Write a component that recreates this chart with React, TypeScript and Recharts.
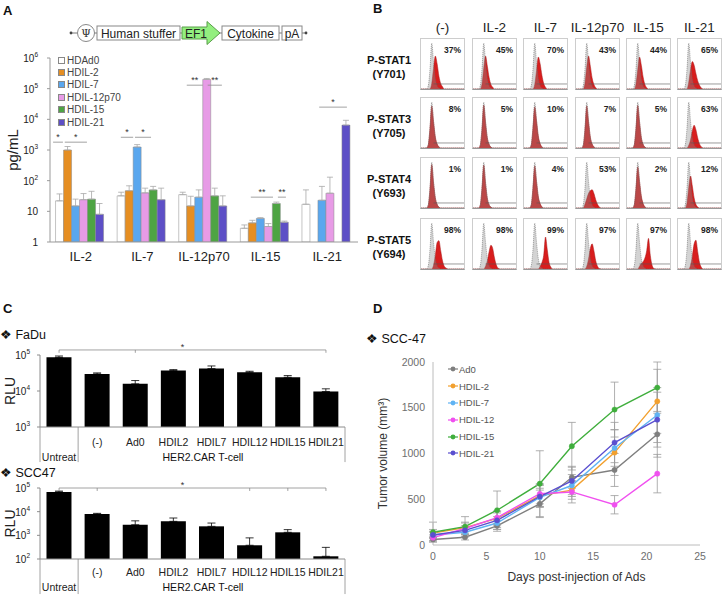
import React from "react";
import {
  BarChart,
  Bar,
  XAxis,
  YAxis,
  ErrorBar,
  ReferenceLine,
  Legend,
  AreaChart,
  Area,
  LineChart,
  Line,
} from "recharts";

const FONT = '"Liberation Sans", Arial, Helvetica, sans-serif';

// ---------- A: cytokine secretion (pg/mL, log scale)
const cytokines = ["IL-2", "IL-7", "IL-12p70", "IL-15", "IL-21"];
const vectors = ["HDAd0", "HDIL-2", "HDIL-7", "HDIL-12p70", "HDIL-15", "HDIL-21"];
const vectorColors = ["#ffffff", "#e58e22", "#5aa7ee", "#e79be6", "#4ea443", "#5d4fc6"];
const hdAd0 = [22, 32, 35, 2.8, 17];
const hdIl2 = [1000, 47, 15, 4.2, 1];
const hdIl7 = [15, 1250, 29, 5.9, 23];
const hdIl12 = [24, 40, 200000, 3.2, 39];
const hdIl15 = [25, 50, 32, 18, 1];
const hdIl21 = [8, 24, 15, 4.4, 6500];
const hdAd0Err = [15, 10, 7, 0.8, 33];
const hdIl2Err = [300, 21, 16, 0.9, 0];
const hdIl7Err = [10, 250, 21, 0.3, 42];
const hdIl12Err = [14, 17, 15000, 0.8, 91];
const hdIl15Err = [20, 15, 25, 2, 0];
const hdIl21Err = [10, 33, 17, 0.4, 2800];
const aTicks = [1, 10, 100, 1000, 10000, 100000, 1000000];
// [category, from, to (fraction of the category band), height in pg/mL, label]
const aBrackets: [string, number, number, number, string][] = [
  ["IL-2", 0.05, 0.21, 1800, "*"],
  ["IL-2", 0.24, 0.6, 1800, "*"],
  ["IL-7", 0.15, 0.35, 2600, "*"],
  ["IL-7", 0.38, 0.64, 2600, "*"],
  ["IL-12p70", 0.22, 0.48, 130000, "**"],
  ["IL-12p70", 0.56, 0.79, 130000, "**"],
  ["IL-15", 0.26, 0.62, 29, "**"],
  ["IL-15", 0.7, 0.83, 29, "**"],
  ["IL-21", 0.37, 0.82, 25000, "*"],
];

const aSeries = [hdAd0, hdIl2, hdIl7, hdIl12, hdIl15, hdIl21];
const aErrs = [hdAd0Err, hdIl2Err, hdIl7Err, hdIl12Err, hdIl15Err, hdIl21Err];
const aData = cytokines.map((name, i) => {
  const row: any = { name };
  vectors.forEach((v, j) => {
    row[v] = aSeries[j][i];
    row[v + "_err"] = [0, aErrs[j][i]];
  });
  return row;
});
const A_W = 362;
const A_BAND = (A_W - 4 - 50) / cytokines.length;

// ---------- B: phospho-STAT flow histograms
const histCols = ["(-)", "IL-2", "IL-7", "IL-12p70", "IL-15", "IL-21"];
const grayCtrl = [0, 0, 0, 0, 6, 42, 100, 58, 22, 7, 2, 0, 0, 0, 0, 0, 0, 0, 0, 0, 0, 0, 0, 0, 0];
// [start bin, counts]
const stat1Red: [number, number[]][] = [
  [5, [0, 12, 45, 72, 55, 28, 12, 5, 0]],
  [4, [0, 10, 45, 72, 50, 25, 10, 4, 0]],
  [5, [0, 10, 40, 70, 55, 30, 12, 4, 0]],
  [4, [0, 12, 48, 72, 50, 24, 10, 3, 0]],
  [4, [0, 10, 42, 70, 52, 26, 10, 3, 0]],
  [5, [0, 15, 42, 60, 52, 34, 18, 8, 2, 0]],
];
const stat3Red: [number, number[]][] = [
  [3, [0, 6, 42, 92, 58, 24, 9, 3, 0]],
  [3, [0, 5, 40, 94, 56, 22, 8, 2, 0]],
  [3, [0, 6, 44, 90, 60, 26, 10, 3, 0]],
  [3, [0, 5, 40, 92, 58, 24, 9, 3, 0]],
  [3, [0, 6, 42, 93, 57, 23, 8, 2, 0]],
  [5, [0, 6, 18, 38, 50, 40, 22, 9, 3, 0]],
];
const stat4Red: [number, number[]][] = [
  [3, [0, 5, 40, 95, 55, 22, 8, 2, 0]],
  [3, [0, 5, 42, 94, 54, 21, 7, 2, 0]],
  [3, [0, 6, 44, 92, 58, 25, 10, 3, 0]],
  [4, [0, 8, 20, 32, 38, 40, 32, 18, 8, 2, 0]],
  [3, [0, 6, 42, 90, 58, 26, 10, 3, 0]],
  [4, [0, 10, 45, 70, 48, 22, 8, 2, 0]],
];
const stat5Red: [number, number[]][] = [
  [6, [0, 8, 30, 58, 62, 40, 18, 6, 2, 0]],
  [6, [0, 6, 18, 38, 52, 45, 24, 9, 2, 0]],
  [8, [0, 6, 14, 30, 70, 42, 14, 4, 0]],
  [5, [0, 6, 22, 45, 55, 40, 18, 6, 1, 0]],
  [6, [0, 6, 12, 16, 24, 40, 67, 30, 8, 1, 0]],
  [6, [0, 8, 28, 55, 63, 38, 14, 4, 0]],
];
const stat1Pct = [37, 45, 70, 43, 44, 65];
const stat3Pct = [8, 5, 10, 7, 5, 63];
const stat4Pct = [1, 1, 4, 53, 2, 12];
const stat5Pct = [98, 98, 99, 97, 97, 98];
const statRows = [
  { label: ["P-STAT1", "(Y701)"], red: stat1Red, pct: stat1Pct },
  { label: ["P-STAT3", "(Y705)"], red: stat3Red, pct: stat3Pct },
  { label: ["P-STAT4", "(Y693)"], red: stat4Red, pct: stat4Pct },
  { label: ["P-STAT5", "(Y694)"], red: stat5Red, pct: stat5Pct },
];
const cellLeft = [420, 472, 523, 575, 626, 677];
const cellTop = [38, 97, 157, 218];

// ---------- C: luciferase (RLU, log scale)
const rluGroups = ["Untreat", "(-)", "Ad0", "HDIL2", "HDIL7", "HDIL12", "HDIL15", "HDIL21"];
const faduRlu = [86000, 29800, 15800, 36900, 41900, 33200, 24000, 9700];
const faduErr = [7800, 2000, 3700, 2400, 7700, 2100, 2800, 1800];
const faduMarks = ["Untreat", "Ad0", "HDIL21"];
const scc47Rlu = [68000, 7900, 2800, 3900, 2400, 380, 1340, 130];
const scc47Err = [6000, 600, 1300, 1500, 900, 400, 400, 180];
const scc47Marks = ["Untreat", "(-)", "HDIL12", "HDIL15", "HDIL21"];

// ---------- D: tumour growth
const days = [0, 3, 6, 10, 13, 17, 21];
const dNames = ["Ad0", "HDIL-2", "HDIL-7", "HDIL-12", "HDIL-15", "HDIL-21"];
const dColors = ["#7f7f7f", "#f2a02e", "#5fb3f3", "#f050ef", "#3fae3c", "#5a4fcf"];
const ad0Vol = [60, 85, 210, 450, 740, 820, 1210];
const hdil2Vol = [130, 190, 290, 540, 600, 1010, 1570];
const hdil7Vol = [110, 140, 240, 520, 650, 1060, 1420];
const hdil12Vol = [80, 180, 300, 560, 580, 440, 780];
const hdil15Vol = [140, 200, 380, 670, 1080, 1480, 1720];
const hdil21Vol = [110, 160, 270, 530, 700, 1120, 1370];
const ad0Sd = [20, 30, 60, 150, 120, 180, 250];
const hdil2Sd = [40, 60, 80, 120, 100, 250, 350];
const hdil7Sd = [40, 50, 70, 100, 120, 200, 300];
const hdil12Sd = [30, 60, 70, 110, 120, 100, 210];
const hdil15Sd = [110, 110, 210, 360, 260, 300, 280];
const hdil21Sd = [30, 50, 80, 120, 150, 220, 300];
const dTicksX = [0, 5, 10, 15, 20, 25];
const dTicksY = [0, 500, 1000, 1500, 2000];

const dVals = [ad0Vol, hdil2Vol, hdil7Vol, hdil12Vol, hdil15Vol, hdil21Vol];
const dSds = [ad0Sd, hdil2Sd, hdil7Sd, hdil12Sd, hdil15Sd, hdil21Sd];
const dData = days.map((day, i) => {
  const row: any = { day };
  dNames.forEach((n, j) => {
    row[n] = dVals[j][i];
    row[n + "_e"] = dSds[j][i];
  });
  return row;
});

function Txt({ x, y, size, children, bold, anchor = "start", color = "#111" }: any) {
  const tx = anchor === "middle" ? "-50%" : anchor === "end" ? "-100%" : "0";
  return (
    <div
      style={{
        position: "absolute",
        left: x,
        top: y,
        transform: `translate(${tx}, -50%)`,
        fontSize: size,
        lineHeight: 1,
        fontWeight: bold ? "bold" : "normal",
        color,
        whiteSpace: "nowrap",
      }}
    >
      {children}
    </div>
  );
}

const PowTick = (props: any) => {
  const { x, y, payload } = props;
  const e = Math.round(Math.log10(payload.value));
  return (
    <text x={x} y={y} textAnchor="end" dominantBaseline="central" fontSize={10} fill="#222">
      {e === 0 ? "1" : e === 1 ? "10" : (
        <>
          <tspan>10</tspan>
          <tspan dy={-4} fontSize={6.5}>{e}</tspan>
        </>
      )}
    </text>
  );
};

function Construct() {
  return (
    <svg width={362} height={50} style={{ position: "absolute", left: 0, top: 0 }}>
      <line x1={71} y1={33} x2={305} y2={33} stroke="#777" />
      <circle cx={71} cy={33} r={1.4} fill="#444" />
      <circle cx={306} cy={33} r={1.4} fill="#444" />
      <circle cx={86} cy={33} r={8.5} fill="#fff" stroke="#888" />
      <text x={86} y={37} textAnchor="middle" fontSize={11} fontFamily="DejaVu Serif" fill="#333">Ψ</text>
      <rect x={97} y={26} width={83} height={14} fill="#fff" stroke="#888" />
      <text x={138.5} y={37.5} textAnchor="middle" fontSize={12} fill="#222">Human stuffer</text>
      <polygon points="182,27 207,27 207,21.5 220,33 207,44.5 207,39 182,39" fill="#93ef7f" stroke="#5a9e4a" />
      <text x={196} y={37.5} textAnchor="middle" fontSize={12} fill="#222">EF1</text>
      <rect x={222} y={26} width={57} height={14} fill="#fff" stroke="#888" />
      <text x={250.5} y={37.5} textAnchor="middle" fontSize={12} fill="#222">Cytokine</text>
      <rect x={282} y={26} width={20} height={14} fill="#fff" stroke="#888" />
      <text x={292} y={37.5} textAnchor="middle" fontSize={12} fill="#222">pA</text>
    </svg>
  );
}

const ALegend = ({ payload }: any) => {
  const items = (payload || []).slice().sort((a: any, b: any) => vectors.indexOf(a.value) - vectors.indexOf(b.value));
  return (
    <div>
      {items.map((p: any) => (
        <div key={p.value} style={{ display: "flex", alignItems: "center", height: 12.4, fontSize: 10, color: "#444" }}>
          <span style={{ width: 5, height: 5, background: p.color, border: "1px solid #888", marginRight: 2 }} />
          {p.value}
        </div>
      ))}
    </div>
  );
};

// bracket drawn inside one category band, from the band's start
const bandBracket = (from: number, to: number, text: string) => (p: any) => (
  <g>
    <line x1={p.x1 + from * A_BAND} x2={p.x1 + to * A_BAND} y1={p.y1} y2={p.y1} stroke="#8a8a8a" strokeWidth={0.8} />
    <text x={p.x1 + ((from + to) / 2) * A_BAND} y={p.y1 - 2} textAnchor="middle" fontSize={9} fill="#333">
      {text}
    </text>
  </g>
);

function PanelA() {
  return (
    <div style={{ position: "absolute", left: 0, top: 40 }}>
      <BarChart width={A_W} height={232} data={aData} margin={{ top: 18, right: 4, bottom: 0, left: 0 }} barCategoryGap="9%" barGap={0}>
        <XAxis dataKey="name" axisLine={{ stroke: "#9a9a9a" }} tickLine={false} tickMargin={4} tick={{ fontSize: 13, fill: "#222" }} height={30} interval={0} />
        <YAxis
          scale="log"
          domain={[1, 1000000]}
          ticks={aTicks}
          allowDataOverflow
          width={50}
          axisLine={{ stroke: "#9a9a9a" }}
          tickLine={{ stroke: "#9a9a9a" }}
          tickSize={3}
          tickMargin={9}
          tick={PowTick}
          label={{ value: "pg/mL", angle: -90, position: "insideLeft", offset: 13, style: { textAnchor: "middle", fontSize: 15, fill: "#222" } }}
        />
        <Legend layout="vertical" align="center" verticalAlign="middle" content={ALegend} wrapperStyle={{ left: 58, top: 14, width: "auto" }} />
        {vectors.map((v, j) => (
          <Bar key={v} dataKey={v} fill={vectorColors[j]} stroke="#8a8a8a" strokeWidth={0.5} isAnimationActive={false}>
            <ErrorBar dataKey={v + "_err"} width={3} stroke="#a8a8a8" strokeWidth={0.8} />
          </Bar>
        ))}
        {aBrackets.map(([c, a, b, y, s], i) => (
          <ReferenceLine
            key={i}
            position="start"
            segment={[{ x: c, y }, { x: c, y }]}
            ifOverflow="visible"
            shape={bandBracket(a, b, s)}
          />
        ))}
      </BarChart>
    </div>
  );
}

function Hist({ red, pct }: { red: [number, number[]]; pct: number }) {
  const [start, vals] = red;
  const rows = grayCtrl.map((g, i) => ({ bin: i, g, r: i >= start && i < start + vals.length ? vals[i - start] : 0 }));
  return (
    <div style={{ position: "relative", width: 45, height: 52, border: "1px solid #cdcdcd", borderBottomColor: "#999", boxSizing: "border-box" }}>
      <AreaChart width={43} height={50} data={rows} margin={{ top: 2, right: 0, bottom: 0, left: 0 }}>
        <XAxis type="number" dataKey="bin" domain={[0, 24]} allowDataOverflow hide />
        <YAxis domain={[0, 105]} allowDataOverflow hide />
        <Area type="monotone" dataKey="r" fill="#d81d1d" fillOpacity={1} stroke="#a51818" strokeWidth={0.5} dot={false} activeDot={false} isAnimationActive={false} />
        <Area type="monotone" dataKey="g" fill="#8c8c8c" fillOpacity={0.38} stroke="#6a6a6a" strokeWidth={0.6} strokeDasharray="1 1" dot={false} activeDot={false} isAnimationActive={false} />
        <ReferenceLine segment={[{ x: 7, y: 11 }, { x: 24, y: 11 }]} stroke="#555" strokeWidth={0.6} />
      </AreaChart>
      <div style={{ position: "absolute", right: 3, top: 7, fontSize: 8.5, fontWeight: "bold", lineHeight: 1, color: "#222" }}>{pct}%</div>
    </div>
  );
}

function PanelB() {
  return (
    <>
      {histCols.map((c, i) => (
        <Txt key={c} x={cellLeft[i] + 22.5} y={28} size={13.5} anchor="middle" color="#222">{c}</Txt>
      ))}
      {statRows.map((r, ri) => (
        <React.Fragment key={ri}>
          <Txt x={389} y={cellTop[ri] + 22} size={11} bold anchor="middle">{r.label[0]}</Txt>
          <Txt x={389} y={cellTop[ri] + 36} size={11} bold anchor="middle">{r.label[1]}</Txt>
          {histCols.map((c, ci) => (
            <div key={c} style={{ position: "absolute", left: cellLeft[ci], top: cellTop[ri] }}>
              <Hist red={r.red[ci]} pct={r.pct[ci]} />
            </div>
          ))}
        </React.Fragment>
      ))}
    </>
  );
}

const RluTick = (props: any) => {
  const { x, y, payload, rowGap } = props;
  const isU = payload.value === "Untreat";
  return (
    <text x={x} y={y + (isU ? rowGap + 15 : rowGap)} textAnchor="middle" dominantBaseline="central" fontSize={10.5} fill="#222">
      {payload.value}
    </text>
  );
};

function RluChart({ top, height, marginTop, plotH, values, errs, marks, domain, ticks, bracketY, markY, tableBottom, rowGap }: any) {
  const rows = rluGroups.map((name, i) => ({ name, v: values[i], e: [0, errs[i]] }));
  const dividers = [
    ["Untreat", "start"],
    ["(-)", "start"],
    ["HDIL21", "end"],
  ];
  return (
    <div style={{ position: "absolute", left: 0, top }}>
      <BarChart width={350} height={height} data={rows} margin={{ top: marginTop, right: 5, bottom: 0, left: 0 }} barCategoryGap="17%">
        <XAxis
          dataKey="name"
          axisLine={{ stroke: "#8c8c8c" }}
          tickLine={false}
          tickSize={0}
          tickMargin={0}
          interval={0}
          height={height - marginTop - plotH}
          tick={(p: any) => <RluTick {...p} rowGap={rowGap} />}
        />
        <YAxis
          scale="log"
          domain={domain}
          ticks={ticks}
          allowDataOverflow
          width={40}
          axisLine={{ stroke: "#8c8c8c" }}
          tickLine={{ stroke: "#8c8c8c" }}
          tickSize={3}
          tickMargin={7}
          tick={PowTick}
          label={{ value: "RLU", angle: -90, position: "insideLeft", offset: 10, style: { textAnchor: "middle", fontSize: 14, fill: "#222" } }}
        />
        <Bar dataKey="v" fill="#000" isAnimationActive={false}>
          <ErrorBar dataKey="e" width={4} stroke="#000" strokeWidth={0.8} />
        </Bar>
        <ReferenceLine
          segment={[{ x: "Untreat", y: bracketY }, { x: "HDIL21", y: bracketY }]}
          stroke="#8a8a8a"
          strokeWidth={0.8}
          ifOverflow="visible"
          label={{ value: "*", position: "top", offset: 0, fontSize: 9, fill: "#333", dx: -10 }}
        />
        {marks.map((m: string) => (
          <ReferenceLine key={m} segment={[{ x: m, y: bracketY }, { x: m, y: markY }]} stroke="#8a8a8a" strokeWidth={0.8} ifOverflow="visible" />
        ))}
        {dividers.map(([c, pos]) => (
          <ReferenceLine
            key={c}
            position={pos as any}
            segment={[{ x: c, y: domain[0] }, { x: c, y: tableBottom }]}
            stroke="#8c8c8c"
            strokeWidth={0.8}
            ifOverflow="visible"
          />
        ))}
      </BarChart>
    </div>
  );
}

function PanelC() {
  return (
    <>
      <Txt x={0} y={335} size={12.5}>❖ FaDu</Txt>
      <RluChart
        top={335}
        height={130}
        marginTop={20}
        plotH={72}
        values={faduRlu}
        errs={faduErr}
        marks={faduMarks}
        domain={[1000, 100000]}
        ticks={[1000, 10000, 100000]}
        bracketY={138000}
        markY={115000}
        tableBottom={106}
        rowGap={15}
      />
      <Txt x={203} y={457} size={10.5} anchor="middle">HER2.CAR T-cell</Txt>
      <Txt x={0} y={473} size={12.5}>❖ SCC47</Txt>
      <RluChart
        top={470}
        height={127}
        marginTop={18}
        plotH={71}
        values={scc47Rlu}
        errs={scc47Err}
        marks={scc47Marks}
        domain={[100, 100000]}
        ticks={[100, 1000, 10000, 100000]}
        bracketY={100000}
        markY={75000}
        tableBottom={3.3}
        rowGap={13}
      />
      <Txt x={203} y={587} size={10.5} anchor="middle">HER2.CAR T-cell</Txt>
    </>
  );
}

const DLegend = ({ payload }: any) => {
  const items = (payload || []).slice().sort((a: any, b: any) => dNames.indexOf(a.value) - dNames.indexOf(b.value));
  return (
    <div>
      {items.map((p: any) => (
        <div key={p.value} style={{ display: "flex", alignItems: "center", height: 16.8, fontSize: 9.5, color: "#555" }}>
          <svg width={10} height={6} style={{ marginRight: 1 }}>
            <line x1={0} y1={3} x2={10} y2={3} stroke={p.color} strokeWidth={1.2} />
            <circle cx={5} cy={3} r={2.4} fill={p.color} />
          </svg>
          {p.value}
        </div>
      ))}
    </div>
  );
};

function PanelD() {
  return (
    <>
      <Txt x={366} y={339} size={12.5}>❖ SCC-47</Txt>
      <div style={{ position: "absolute", left: 370, top: 330 }}>
        <LineChart width={354} height={267} data={dData} margin={{ top: 32, right: 24, bottom: 0, left: 0 }}>
          <XAxis
            type="number"
            dataKey="day"
            domain={[0, 25]}
            ticks={dTicksX}
            axisLine={{ stroke: "#bcbcbc" }}
            tickLine={false}
            tick={{ fontSize: 10.5, fill: "#6e6e6e" }}
            height={52}
            label={{ value: "Days post-injection of Ads", position: "insideBottom", offset: 16, dx: 10, style: { fontSize: 12, fill: "#333" } }}
          />
          <YAxis
            domain={[0, 2000]}
            ticks={dTicksY}
            width={63}
            axisLine={{ stroke: "#bcbcbc" }}
            tickLine={false}
            tick={{ fontSize: 10.5, fill: "#6e6e6e" }}
            label={{ value: "Tumor volume (mm³)", angle: -90, position: "insideLeft", offset: 13, style: { textAnchor: "middle", fontSize: 12, fill: "#333" } }}
          />
          <Legend layout="vertical" align="center" verticalAlign="middle" content={DLegend} wrapperStyle={{ left: 78, top: 31, width: "auto" }} />
          {dNames.map((n, j) => (
            <Line
              key={n}
              type="linear"
              dataKey={n}
              stroke={dColors[j]}
              strokeWidth={1.4}
              dot={{ r: 2.6, fill: dColors[j], stroke: dColors[j], strokeWidth: 0.5 }}
              activeDot={false}
              isAnimationActive={false}
            >
              <ErrorBar dataKey={n + "_e"} width={4} stroke="#9c9c9c" strokeWidth={0.8} direction="y" />
            </Line>
          ))}
        </LineChart>
      </div>
    </>
  );
}

export default function App() {
  return (
    <div style={{ position: "absolute", left: 0, top: 0, width: 724, height: 597, background: "#fff", fontFamily: FONT, overflow: "hidden" }}>
      <Txt x={3} y={10} size={13} bold>A</Txt>
      <Txt x={373} y={8} size={13} bold>B</Txt>
      <Txt x={3} y={308} size={13} bold>C</Txt>
      <Txt x={373} y={308} size={13} bold>D</Txt>
      <Construct />
      <PanelA />
      <PanelB />
      <PanelC />
      <PanelD />
    </div>
  );
}
